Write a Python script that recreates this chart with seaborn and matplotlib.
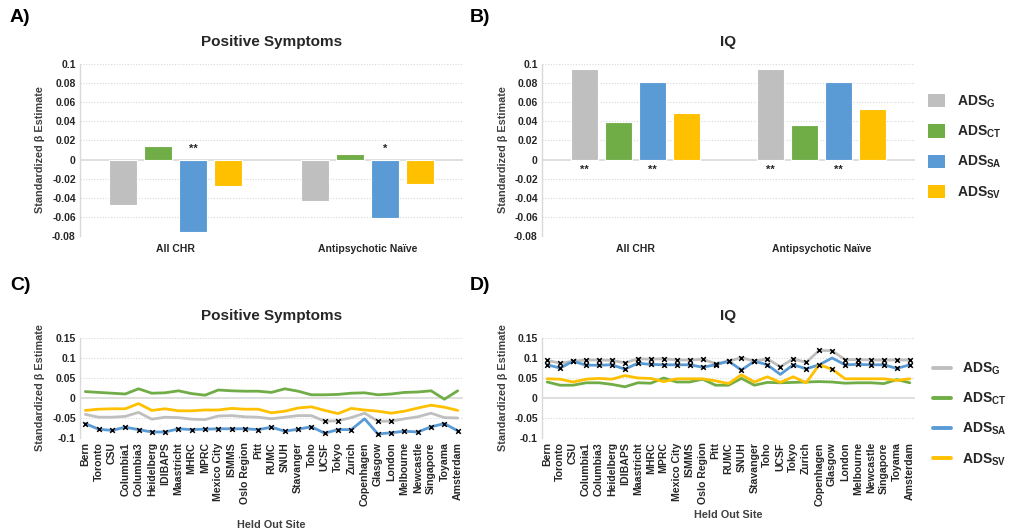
import numpy as np
import pandas as pd
import matplotlib
matplotlib.use("Agg")
import matplotlib.pyplot as plt
import seaborn as sns
from matplotlib.patches import Patch
from matplotlib.lines import Line2D

# ---------------- data ----------------
groups = ["All CHR", "Antipsychotic Naïve"]
scores = ["G", "CT", "SA", "SV"]
colors = ["#BFBFBF", "#70AD47", "#5B9BD5", "#FFC000"]

pos_all_chr = [-0.0475, 0.014, -0.0755, -0.0275]
pos_naive = [-0.043, 0.0063, -0.061, -0.026]
pos_stars_all = ["", "", "**", ""]
pos_stars_naive = ["", "", "*", ""]

iq_all_chr = [0.095, 0.039, 0.081, 0.0488]
iq_naive = [0.095, 0.036, 0.081, 0.053]
iq_stars_all = ["**", "", "**", ""]
iq_stars_naive = ["**", "", "**", ""]

sites = ["Bern", "Toronto", "CSU", "Columbia1", "Columbia3", "Heidelberg", "IDIBAPS",
         "Maastricht", "MHRC", "MPRC", "Mexico City", "ISMMS", "Oslo Region", "Pitt",
         "RUMC", "SNUH", "Stavanger", "Toho", "UCSF", "Tokyo", "Zurich", "Copenhagen",
         "Glasgow", "London", "Melbourne", "Newcastle", "Singapore", "Toyama", "Amsterdam"]

loso_pos_g = [-0.041, -0.048, -0.048, -0.046, -0.036, -0.053, -0.048, -0.049, -0.053, -0.054,
              -0.045, -0.044, -0.047, -0.048, -0.052, -0.048, -0.044, -0.044, -0.058, -0.057,
              -0.049, -0.038, -0.058, -0.058, -0.052, -0.047, -0.038, -0.049, -0.050]
loso_pos_ct = [0.016, 0.014, 0.012, 0.010, 0.023, 0.012, 0.013, 0.018, 0.011, 0.007,
               0.020, 0.018, 0.017, 0.017, 0.014, 0.023, 0.017, 0.008, 0.008, 0.009,
               0.012, 0.013, 0.008, 0.010, 0.014, 0.015, 0.018, -0.003, 0.018]
loso_pos_sa = [-0.064, -0.078, -0.081, -0.073, -0.079, -0.085, -0.085, -0.077, -0.079, -0.078,
               -0.077, -0.077, -0.077, -0.079, -0.073, -0.083, -0.078, -0.072, -0.088, -0.079,
               -0.079, -0.052, -0.090, -0.087, -0.083, -0.085, -0.072, -0.064, -0.082]
loso_pos_sv = [-0.031, -0.028, -0.027, -0.027, -0.014, -0.031, -0.027, -0.032, -0.032, -0.030,
               -0.030, -0.026, -0.028, -0.028, -0.037, -0.033, -0.025, -0.022, -0.031, -0.039,
               -0.026, -0.030, -0.033, -0.038, -0.033, -0.025, -0.018, -0.023, -0.031]

loso_iq_g = [0.094, 0.087, 0.092, 0.095, 0.095, 0.094, 0.088, 0.098, 0.097, 0.098,
             0.095, 0.095, 0.097, 0.086, 0.092, 0.101, 0.092, 0.098, 0.078, 0.098,
             0.089, 0.119, 0.118, 0.096, 0.096, 0.095, 0.095, 0.095, 0.095]
loso_iq_ct = [0.040, 0.032, 0.032, 0.038, 0.038, 0.034, 0.028, 0.038, 0.037, 0.050,
              0.040, 0.040, 0.047, 0.032, 0.032, 0.049, 0.032, 0.039, 0.038, 0.039,
              0.040, 0.041, 0.040, 0.037, 0.038, 0.038, 0.036, 0.046, 0.038]
loso_iq_sa = [0.083, 0.075, 0.092, 0.082, 0.082, 0.083, 0.072, 0.087, 0.084, 0.083,
              0.083, 0.083, 0.077, 0.083, 0.092, 0.070, 0.092, 0.083, 0.059, 0.083,
              0.073, 0.083, 0.100, 0.083, 0.084, 0.083, 0.083, 0.074, 0.083]
loso_iq_sv = [0.048, 0.047, 0.040, 0.047, 0.049, 0.047, 0.056, 0.050, 0.049, 0.041,
              0.048, 0.048, 0.048, 0.043, 0.036, 0.058, 0.040, 0.053, 0.039, 0.053,
              0.038, 0.083, 0.072, 0.048, 0.048, 0.048, 0.048, 0.044, 0.048]

# significance flags (1 = marked point)
sig_pos_g = [0]*18 + [1, 1, 0, 0, 1, 1] + [0]*5
sig_pos_ct = [0]*29
sig_pos_sa = [1]*21 + [0] + [1]*7
sig_pos_sv = [0]*29
sig_iq_g = [1]*29
sig_iq_ct = [0]*29
sig_iq_sa = [1]*18 + [0, 1, 1, 0, 0] + [1]*6
sig_iq_sv = [0]*21 + [1, 1] + [0]*6

# ---------------- style ----------------
sns.set_theme(style="white")
plt.rcParams["font.family"] = ["Liberation Sans", "DejaVu Sans"]
plt.rcParams["font.weight"] = "bold"
plt.rcParams["mathtext.fontset"] = "custom"
plt.rcParams["mathtext.rm"] = "Liberation Sans:bold"
plt.rcParams["mathtext.it"] = "Liberation Sans:bold"
plt.rcParams["mathtext.bf"] = "Liberation Sans:bold"

W, H = 1016, 531
fig = plt.figure(figsize=(W / 100, H / 100), dpi=100)
fig.patch.set_facecolor("white")

def ax_at(l, t, r, b):
    return fig.add_axes([l / W, 1 - b / H, (r - l) / W, (b - t) / H])

axA = ax_at(80, 64, 463, 236)
axB = ax_at(542, 64, 915, 236)
axC = ax_at(80, 338, 463, 438)
axD = ax_at(542, 338, 915, 438)

labels_leg = [r"$\mathrm{ADS}_{\mathrm{%s}}$" % s for s in scores]
grid_c = "#D9D9D9"
txt_c = "#262626"

def style_axis(ax, ylo, yhi, step):
    ticks = np.round(np.arange(ylo, yhi + step / 2, step), 4)
    ax.set_ylim(ylo, yhi)
    ax.set_yticks(ticks)
    ax.set_yticklabels(["%g" % t for t in ticks], fontsize=7.5, fontweight="bold")
    for t in ticks:
        if abs(t) < 1e-9:
            ax.axhline(t, color=grid_c, lw=1.2, zorder=0.5)
        else:
            ax.axhline(t, color=grid_c, lw=0.8, ls=(0, (1, 1.5)), zorder=0.5)
    for s in ["top", "right", "bottom"]:
        ax.spines[s].set_visible(False)
    ax.spines["left"].set_color(grid_c)
    ax.spines["left"].set_linewidth(1.0)
    ax.tick_params(axis="both", length=0, pad=3, colors=txt_c)
    ax.set_facecolor("white")

def bar_panel(ax, v_all, v_naive, st_all, st_naive, title, star_y, star_va):
    df = pd.DataFrame({
        "group": [groups[0]] * 4 + [groups[1]] * 4,
        "score": scores * 2,
        "value": list(v_all) + list(v_naive),
    })
    sns.barplot(data=df, x="group", y="value", hue="score", hue_order=scores,
                palette=colors, saturation=1, width=0.73, gap=0.2, edgecolor="white",
                linewidth=0.8, errorbar=None, legend=False, ax=ax, zorder=2)
    style_axis(ax, -0.08, 0.1, 0.02)
    ax.set_xlim(-0.5, 1.5)
    ax.set_xlabel("")
    ax.set_ylabel("Standardized β Estimate", fontsize=7.8, fontweight="bold", color="#404040")
    ax.yaxis.set_label_coords(-35 / 383, 0.5)
    ax.set_xticks([0, 1])
    ax.set_xticklabels(groups, fontsize=7.5, fontweight="bold", color=txt_c)
    ax.tick_params(axis="x", pad=6)
    ax.set_title(title, fontsize=11, fontweight="bold", pad=13, color=txt_c)
    stars = [st_all, st_naive]
    for hi, cont in enumerate(ax.containers):
        for gi, patch in enumerate(cont.patches):
            s = stars[gi][hi]
            if s:
                ax.text(patch.get_x() + patch.get_width() / 2, star_y, s, ha="center",
                        va=star_va, fontsize=8, fontweight="bold", color=txt_c)

bar_panel(axA, pos_all_chr, pos_naive, pos_stars_all, pos_stars_naive,
          "Positive Symptoms", 0.006, "bottom")
bar_panel(axB, iq_all_chr, iq_naive, iq_stars_all, iq_stars_naive,
          "IQ", -0.006, "top")

def line_panel(ax, series, flags, title, xlab_y):
    x = np.arange(len(sites))
    for vals, fl, c in zip(series, flags, colors):
        sns.lineplot(x=x, y=vals, color=c, lw=2.0, ax=ax, zorder=3)
        m = np.array(fl, dtype=bool)
        if m.any():
            sns.scatterplot(x=x[m], y=np.array(vals)[m], marker="x", color="black",
                            s=11, linewidth=1.1, ax=ax, zorder=4, legend=False)
    style_axis(ax, -0.1, 0.15, 0.05)
    ax.set_xlim(-0.4, len(sites) - 0.6)
    ax.set_xticks(x)
    ax.set_xticklabels(sites, rotation=90, fontsize=7.6, fontweight="bold", color=txt_c)
    ax.set_ylabel("Standardized β Estimate", fontsize=7.8, fontweight="bold", color="#404040")
    ax.yaxis.set_label_coords(-35 / 383, 0.5)
    ax.set_xlabel("Held Out Site", fontsize=7.8, fontweight="bold", color="#404040")
    ax.xaxis.set_label_coords(0.5, -xlab_y / 100)
    ax.set_title(title, fontsize=11, fontweight="bold", pad=13, color=txt_c)

line_panel(axC, [loso_pos_g, loso_pos_ct, loso_pos_sa, loso_pos_sv],
           [sig_pos_g, sig_pos_ct, sig_pos_sa, sig_pos_sv], "Positive Symptoms", 82)
line_panel(axD, [loso_iq_g, loso_iq_ct, loso_iq_sa, loso_iq_sv],
           [sig_iq_g, sig_iq_ct, sig_iq_sa, sig_iq_sv], "IQ", 72)

# legends
hB = [Patch(facecolor=c, edgecolor="none") for c in colors]
legB = axB.legend(hB, labels_leg, loc="center", bbox_to_anchor=(965 / W, 1 - 147 / H),
                  bbox_transform=fig.transFigure,
                  frameon=False, fontsize=10, handlelength=1.2, handleheight=1.1,
                  labelspacing=1.0, handletextpad=0.9)
hD = [Line2D([0], [0], color=c, lw=2.8) for c in colors]
legD = axD.legend(hD, labels_leg, loc="center", bbox_to_anchor=(970 / W, 1 - 414 / H),
                  bbox_transform=fig.transFigure,
                  frameon=False, fontsize=10, handlelength=1.3,
                  labelspacing=1.0, handletextpad=0.8)
for leg in (legB, legD):
    for t in leg.get_texts():
        t.set_color(txt_c)

# panel labels
for lab, xx, yy in [("A)", 10, 17), ("B)", 470, 17), ("C)", 10, 285), ("D)", 470, 285)]:
    fig.text(xx / W, 1 - yy / H, lab, fontsize=14, fontweight="bold", va="center",
             ha="left", color="black")

fig.savefig("out.png", dpi=100, facecolor="white")
